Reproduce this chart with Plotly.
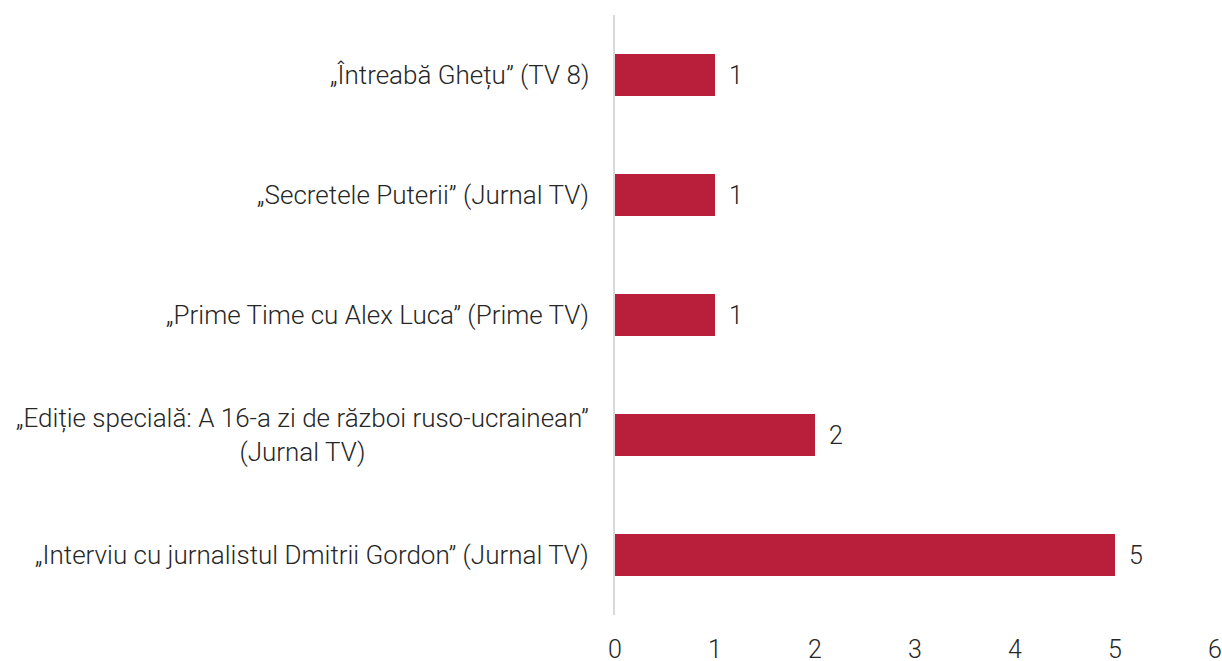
import plotly.graph_objects as go

# shows, listed top to bottom as in the chart
shows = [
    "„Întreabă Ghețu” (TV 8)",
    "„Secretele Puterii” (Jurnal TV)",
    "„Prime Time cu Alex Luca” (Prime TV)",
    "„Ediție specială: A 16-a zi de război ruso-ucrainean”<br>(Jurnal TV)",
    "„Interviu cu jurnalistul Dmitrii Gordon” (Jurnal TV)",
]
counts = [1, 1, 1, 2, 5]
x_ticks = [0, 1, 2, 3, 4, 5, 6]

FONT = "Roboto"
BAR = "#B91F3A"
TXT = "#262626"

fig = go.Figure(go.Bar(
    y=shows,
    x=counts,
    orientation="h",
    width=0.35,
    marker=dict(color=BAR, line=dict(width=0)),
))

# category labels as annotations so the wrapped one stays centred
for s, c in zip(shows, counts):
    fig.add_annotation(x=0, xref="paper", y=s, yref="y", text=s,
                       showarrow=False, xanchor="right", xshift=-24,
                       align="center",
                       font=dict(family=FONT, size=26, color=TXT, weight=300))
    fig.add_annotation(x=c, xref="x", y=s, yref="y", text=str(c),
                       showarrow=False, xanchor="left", xshift=12,
                       font=dict(family=FONT, size=25, color=TXT, weight=300))

fig.update_layout(
    width=1222, height=661,
    margin=dict(l=615, r=7, t=15, b=46),
    plot_bgcolor="white", paper_bgcolor="white",
    showlegend=False,
    xaxis=dict(range=[0, 6], tickvals=x_ticks, showgrid=False, zeroline=False,
               automargin=False,
               ticks="outside", ticklen=12, tickcolor="rgba(0,0,0,0)",
               tickfont=dict(family=FONT, size=25, color=TXT, weight=300)),
    yaxis=dict(categoryorder="array", categoryarray=shows[::-1],
               automargin=False,
               showticklabels=False, showgrid=False, zeroline=False,
               showline=True, linecolor="#d9d9d9", linewidth=2),
)

# no page margin / scrollbars so the figure fills the window exactly
fig.write_html("out.html",
               config={"displayModeBar": False},
               post_script="document.body.style.margin='0';"
                           "document.body.style.overflow='hidden';")
